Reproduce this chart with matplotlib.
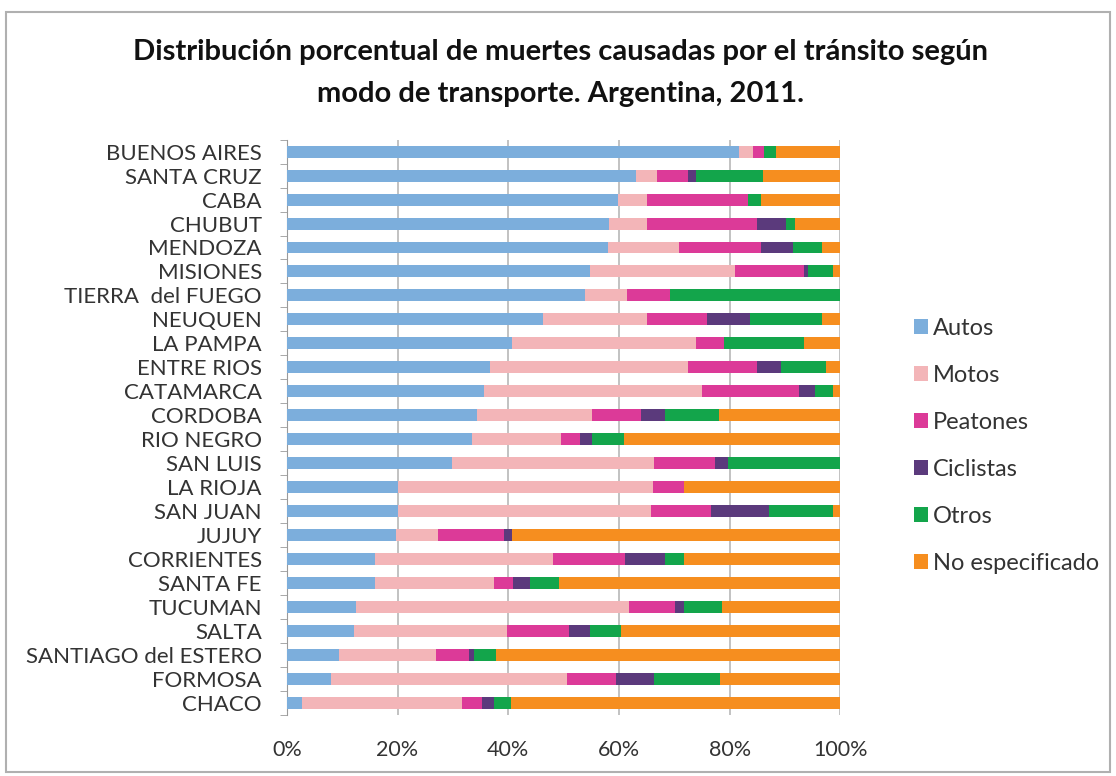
import numpy as np
import matplotlib.pyplot as plt
from matplotlib.patches import Rectangle
from matplotlib.ticker import FixedLocator

provincias = ["BUENOS AIRES", "SANTA CRUZ", "CABA", "CHUBUT", "MENDOZA", "MISIONES",
              "TIERRA  del FUEGO", "NEUQUEN", "LA PAMPA", "ENTRE RIOS", "CATAMARCA",
              "CORDOBA", "RIO NEGRO", "SAN LUIS", "LA RIOJA", "SAN JUAN", "JUJUY",
              "CORRIENTES", "SANTA FE", "TUCUMAN", "SALTA", "SANTIAGO del ESTERO",
              "FORMOSA", "CHACO"]

autos = [81.7, 63.0, 59.9, 58.2, 58.0, 54.7, 53.8, 46.3, 40.6, 36.7, 35.7, 34.4,
         33.4, 29.9, 20.1, 20.1, 19.7, 15.9, 15.9, 12.5, 12.2, 9.5, 7.9, 2.8]
motos = [2.5, 3.9, 5.1, 6.9, 12.9, 26.3, 7.7, 18.8, 33.3, 35.8, 39.3, 20.7,
         16.1, 36.5, 46.0, 45.7, 7.7, 32.1, 21.5, 49.3, 27.6, 17.5, 42.8, 28.9]
peatones = [2.0, 5.5, 18.4, 19.9, 14.8, 12.4, 7.8, 10.9, 5.0, 12.4, 17.6, 8.8,
            3.5, 10.9, 5.6, 10.8, 11.9, 13.1, 3.4, 8.3, 11.1, 5.9, 8.8, 3.5]
ciclistas = [0.0, 1.5, 0.0, 5.1, 5.7, 0.8, 0.0, 7.6, 0.0, 4.4, 2.9, 4.4,
             2.1, 2.4, 0.0, 10.6, 1.3, 7.3, 3.2, 1.6, 3.9, 1.0, 6.8, 2.2]
otros = [2.1, 12.1, 2.3, 1.7, 5.3, 4.5, 30.7, 13.1, 14.5, 8.1, 3.1, 9.7,
         5.9, 20.3, 0.0, 11.5, 0.0, 3.4, 5.1, 6.9, 5.5, 3.9, 12.0, 3.1]
no_especificado = [11.7, 14.0, 14.3, 8.2, 3.3, 1.3, 0.0, 3.3, 6.6, 2.6, 1.4, 22.0,
                   39.0, 0.0, 28.3, 1.3, 59.4, 28.2, 50.9, 21.4, 39.7, 62.2, 21.7, 59.5]

series = ["Autos", "Motos", "Peatones", "Ciclistas", "Otros", "No especificado"]
colores = ["#7CAEDC", "#F3B5B8", "#DC3A98", "#5B3A7C", "#13A54B", "#F68E1F"]
valores = [autos, motos, peatones, ciclistas, otros, no_especificado]

plt.rcParams['font.family'] = ['Lato', 'DejaVu Sans']

fig = plt.figure(figsize=(11.16, 7.76), dpi=100)
ax = fig.add_axes([0.257, 0.079, 0.496, 0.741])

y = np.arange(len(provincias))
left = np.zeros(len(provincias))
for nombre, col, vals in zip(series, colores, valores):
    v = np.array(vals)
    ax.barh(y, v, left=left, height=0.5, color=col, label=nombre, zorder=3)
    left += v

ax.set_ylim(len(provincias) - 0.5, -0.5)
ax.set_xlim(0, 100)
ax.set_yticks(y)
ax.set_yticklabels(provincias, fontsize=16, color="#333333")
ax.yaxis.set_minor_locator(FixedLocator(np.arange(-0.5, len(provincias), 1)))
ax.tick_params(axis='y', which='major', length=0, pad=18)
ax.tick_params(axis='y', which='minor', length=5, color="#9a9a9a", direction='out')

ax.set_xticks([0, 20, 40, 60, 80, 100])
ax.set_xticklabels(["0%", "20%", "40%", "60%", "80%", "100%"], fontsize=15.5, color="#333333")
ax.tick_params(axis='x', length=0, pad=18)
ax.grid(axis='x', color="#b8b8b8", linewidth=1.2, zorder=0)
ax.set_axisbelow(True)

for s in ["top", "right", "bottom"]:
    ax.spines[s].set_visible(False)
ax.spines["left"].set_color("#9a9a9a")

fig.text(0.502, 0.933, "Distribución porcentual de muertes causadas por el tránsito según",
         ha='center', va='center', fontsize=21, fontweight='bold', color="#111111")
fig.text(0.502, 0.879, "modo de transporte. Argentina, 2011.",
         ha='center', va='center', fontsize=21, fontweight='bold', color="#111111")

leg = fig.legend(loc='upper left', bbox_to_anchor=(0.8, 0.618), frameon=False,
                 fontsize=17, handlelength=0.6, handleheight=0.6, handletextpad=0.2,
                 labelspacing=1.1)
for t in leg.get_texts():
    t.set_color("#333333")

fig.patches.append(Rectangle((0.005, 0.005), 0.99, 0.98, transform=fig.transFigure,
                             fill=False, edgecolor="#b0b0b0", linewidth=1.5))

fig.savefig("out.png", dpi=100, facecolor="white")
